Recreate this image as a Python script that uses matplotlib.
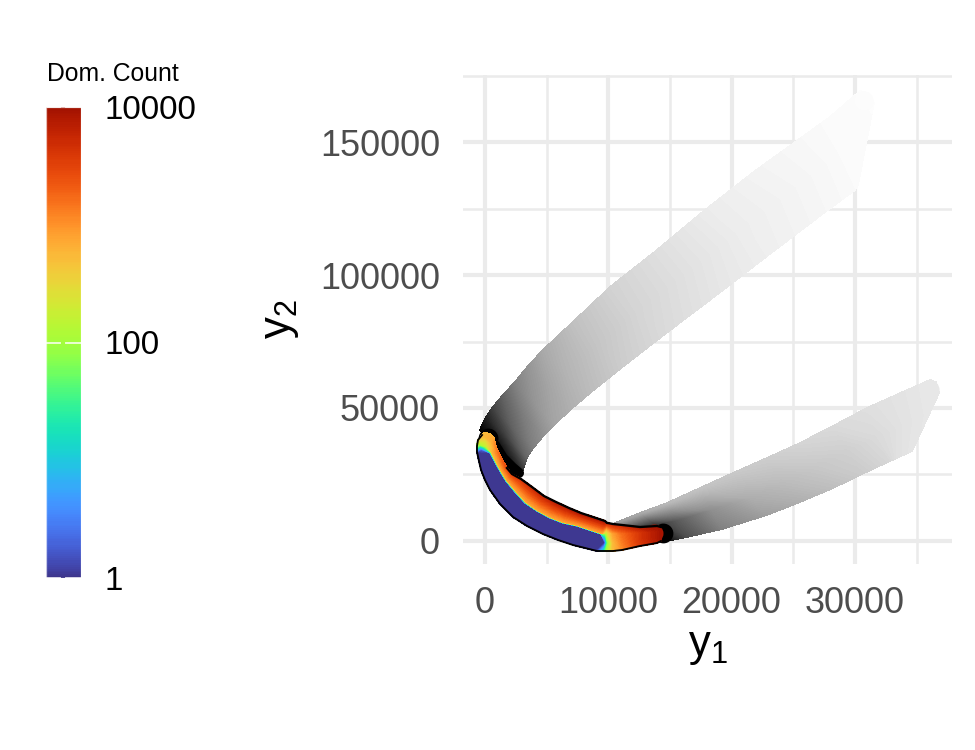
import numpy as np
import matplotlib
matplotlib.use('Agg')
import matplotlib.pyplot as plt
from matplotlib.cm import ScalarMappable
from matplotlib.colors import LinearSegmentedColormap, LogNorm
from matplotlib.ticker import MultipleLocator

plt.rcParams['font.family'] = ['Liberation Sans', 'DejaVu Sans']
plt.rcParams['mathtext.fontset'] = 'custom'
plt.rcParams['mathtext.rm'] = 'Liberation Sans'
plt.rcParams['mathtext.it'] = 'Liberation Sans'

# upper arm: three lines along the band (upper edge, middle, lower edge), grey level 0-1
arm1_x = [[-410, 1050, 3000], [80, 1620, 3410], [650, 2190, 3970], [1460, 3080, 4860], [2430, 4050, 5680],
          [3490, 5190, 6890], [4700, 6570, 8510], [7130, 9240, 11350], [10140, 12320, 14590],
          [13950, 16620, 19300], [17840, 20680, 23510], [21890, 24730, 27570], [25950, 27970, 30000],
          [27970, 29190, 30240], [30400, 31050, 31540]]
arm1_y = [[41730, 34960, 25940], [46620, 40980, 31580], [50380, 43610, 35340], [54890, 47740, 40230],
          [59770, 52260, 43990], [65790, 57900, 49250], [71800, 63910, 55640], [82330, 74440, 66170],
          [95490, 86840, 77820], [109400, 101880, 94360], [124440, 116920, 109400], [139100, 131580, 123680],
          [152630, 142480, 131960], [159400, 146990, 133830], [169170, 168420, 164660]]
arm1_grey = [[0, 0, .15], [.12, .25, .4], [.25, .38, .5], [.38, .48, .57], [.5, .58, .64],
             [.58, .64, .68], [.66, .7, .73], [.75, .77, .8], [.82, .83, .85], [.87, .88, .9],
             [.92, .925, .935], [.95, .95, .96], [.97, .97, .975], [.98, .98, .98], [.985, .985, .985]]

# lower arm
arm2_x = [[10540, 12570, 14840], [12570, 13780, 15160], [14760, 15570, 16380], [17430, 18410, 19220],
          [20110, 21490, 22860], [22860, 24160, 25540], [25540, 26920, 28220], [28220, 29430, 30570],
          [30970, 31700, 32840], [34050, 34050, 33400], [36080, 35840, 34620], [36570, 36810, 34780]]
arm2_y = [[6770, 4890, 380], [10530, 6390, 380], [14290, 7890, 1500], [19920, 12030, 4510],
          [25560, 16540, 9770], [31200, 21800, 14660], [36840, 28200, 19920], [43230, 34210, 25190],
          [50000, 39100, 30080], [56390, 43610, 31200], [60530, 47370, 33830], [59770, 55640, 35340]]
arm2_grey = [[.6, .2, 0], [.66, .2, .08], [.72, .35, .3], [.76, .56, .5], [.78, .68, .62], [.8, .73, .68],
             [.83, .78, .74], [.85, .81, .79], [.87, .85, .84], [.89, .885, .875], [.905, .9, .895],
             [.905, .905, .895]]

# crescent: outer edge, blue edge, transition, inner edge; value is log10 of Dom. Count
front_x = [[-240, -80, 160, 410], [-570, -410, 0, 730], [-650, -410, 80, 810], [-650, -320, 160, 970],
           [-490, 410, 530, 1140], [-320, 890, 1010, 1460], [0, 1300, 1420, 1780], [410, 1700, 1820, 2190],
           [1220, 2430, 2550, 2920], [2270, 3240, 3360, 3810], [3410, 4220, 4270, 4780],
           [4700, 5270, 5320, 5760], [5920, 6320, 6370, 6810], [7130, 7460, 7500, 7780],
           [8110, 8430, 8470, 8760], [9080, 9410, 9450, 9730], [9650, 9730, 9810, 9890],
           [9890, 9970, 9970, 9970], [10380, 10380, 10380, 10380], [11110, 11110, 11110, 11110],
           [12570, 12570, 12570, 12570], [13950, 13950, 13950, 13950], [14270, 14270, 14270, 14270]]
front_y = [[39850, 40600, 40600, 40230], [37970, 38720, 39470, 38720], [35710, 36470, 37590, 36840],
           [33460, 34590, 35710, 34590], [30080, 33080, 33640, 33080], [26690, 28950, 29130, 30080],
           [22930, 25560, 25750, 27440], [19170, 22560, 22750, 25190], [13910, 18420, 18800, 23310],
           [9020, 14290, 14670, 20300], [5640, 11280, 11650, 16920], [2630, 8650, 9030, 14660],
           [380, 6770, 7140, 12410], [-1500, 5640, 6020, 10530], [-2630, 4140, 4520, 9020],
           [-3760, 2630, 3010, 7520], [-3760, -750, 3010, 6770], [-3760, -750, 3010, 6770],
           [-3760, -750, 3010, 6390], [-3380, -380, 3010, 6020], [-1880, 1130, 3380, 5260],
           [-750, 1500, 3760, 5640], [0, 1500, 3760, 5260]]
front_log = [[2.75, 2.75, 2.75, 2.75], [2.5, 2.6, 2.75, 2.85], [1.8, 2.1, 2.4, 3.0], [0, .3, 2.3, 3.1],
             [0, 0, 2.7, 3.2], [0, 0, 2.75, 3.3], [0, 0, 2.8, 3.4], [0, 0, 2.85, 3.5], [0, 0, 2.85, 3.6],
             [0, 0, 2.85, 3.7], [0, 0, 2.85, 3.78], [0, 0, 2.85, 3.85], [0, 0, 2.85, 3.88], [0, 0, 2.85, 3.9],
             [0, 0, 2.85, 3.9], [0, 0, 2.85, 3.9], [1.2, 0, 2.0, 3.7], [2.0, 1.8, 2.4, 3.7], [2.7, 2.7, 2.9, 3.7],
             [3.0, 3.1, 3.2, 3.7], [3.55, 3.6, 3.6, 3.85], [3.85, 3.9, 3.9, 3.95], [3.95, 3.95, 3.95, 3.95]]

# black points under the crescent
ridge_x = [810, 1460, 2190, 2760]
ridge_y = [36090, 31200, 27820, 25560]
blob_x = [240, 14430]
blob_y = [38720, 3010]

# round ends of the arms and the crescent
tip_x = [30730, 36080]
tip_y = [165420, 56770]
tip_grey = [.985, .905]
cap_x = 13700
cap_y = 3010
cap_log = 3.95

dom_ticks = [1, 100, 10000]
dom_labels = ['1', '100', '10000']
x_ticks = [0, 10000, 20000, 30000]
y_ticks = [0, 50000, 100000, 150000]

turbo = LinearSegmentedColormap.from_list(
    'turbo_cut', matplotlib.colormaps['turbo'](np.linspace(.05, .95, 256)))


def shade(ax, x, y, z, cmap, vmin, vmax, zorder):
    cs = ax.contourf(np.array(x), np.array(y), np.array(z), levels=np.linspace(vmin, vmax, 129),
                     cmap=cmap, vmin=vmin, vmax=vmax, zorder=zorder)
    cs.set_edgecolor('face')
    cs.set_linewidth(.3)
    return cs


fig = plt.figure(figsize=(6.5, 5), dpi=150)
ax = fig.add_axes([463 / 975, 186.5 / 750, 489 / 975, 488.5 / 750])
ax.set_xlim(-1784, 37864)
ax.set_ylim(-8460, 175190)

shade(ax, arm1_x, arm1_y, arm1_grey, 'gray', 0, 1, 2)
shade(ax, arm2_x, arm2_y, arm2_grey, 'gray', 0, 1, 2)
ax.scatter(tip_x, tip_y, s=85, c=tip_grey, cmap='gray', vmin=0, vmax=1, linewidths=0, zorder=2)

ax.plot(ridge_x, ridge_y, color='black', lw=4.8, solid_capstyle='round', zorder=3)
ax.scatter(blob_x, blob_y, s=90, color='black', linewidths=0, zorder=3)
ax.scatter([cap_x], [cap_y], s=75, color=turbo(cap_log / 4), linewidths=0, zorder=4)

shade(ax, front_x, front_y, front_log, turbo, 0, 4, 5)
ax.plot([r[0] for r in front_x], [r[0] for r in front_y], color='black', lw=.9, zorder=6)
ax.plot([r[3] for r in front_x[6:]], [r[3] for r in front_y[6:]], color='black', lw=1.1, zorder=6)

ax.xaxis.set_major_locator(MultipleLocator(10000))
ax.xaxis.set_minor_locator(MultipleLocator(5000))
ax.yaxis.set_major_locator(MultipleLocator(50000))
ax.yaxis.set_minor_locator(MultipleLocator(25000))
ax.set_xticks(x_ticks)
ax.set_yticks(y_ticks)
ax.set_axisbelow(True)
ax.grid(which='major', color='#ebebeb', lw=2.0)
ax.grid(which='minor', color='#ebebeb', lw=1.2)
ax.tick_params(which='both', length=0)
ax.tick_params(axis='x', labelsize=17.3, labelcolor='#4d4d4d', pad=11)
ax.tick_params(axis='y', labelsize=17.3, labelcolor='#4d4d4d', pad=11)
for s in ax.spines.values():
    s.set_visible(False)
ax.set_xlabel(r'$\mathrm{y_1}$', fontsize=21, labelpad=2)
ax.set_ylabel(r'$\mathrm{y_2}$', fontsize=21, labelpad=9)

# colour legend
cax = fig.add_axes([45.5 / 975, 172 / 750, 35.5 / 975, 471 / 750])
cbar = fig.colorbar(ScalarMappable(norm=LogNorm(1, 10000), cmap=turbo), cax=cax)
cbar.set_ticks(dom_ticks)
cbar.set_ticklabels(dom_labels)
cbar.ax.minorticks_off()
cbar.ax.tick_params(length=0, labelsize=15.9, pad=11.5)
cbar.outline.set_edgecolor('white')
cbar.outline.set_alpha(.7)
cbar.outline.set_linewidth(.6)
for t in dom_ticks:
    cax.plot([0, .42], [t, t], transform=cax.get_yaxis_transform(), color='white', lw=.9, alpha=.8,
             clip_on=False)
    cax.plot([.58, 1], [t, t], transform=cax.get_yaxis_transform(), color='white', lw=.9, alpha=.8,
             clip_on=False)
fig.text(47 / 975, 1 - 74 / 750, 'Dom. Count', fontsize=11.9, va='center', ha='left')

fig.savefig('out.png', dpi=150)
